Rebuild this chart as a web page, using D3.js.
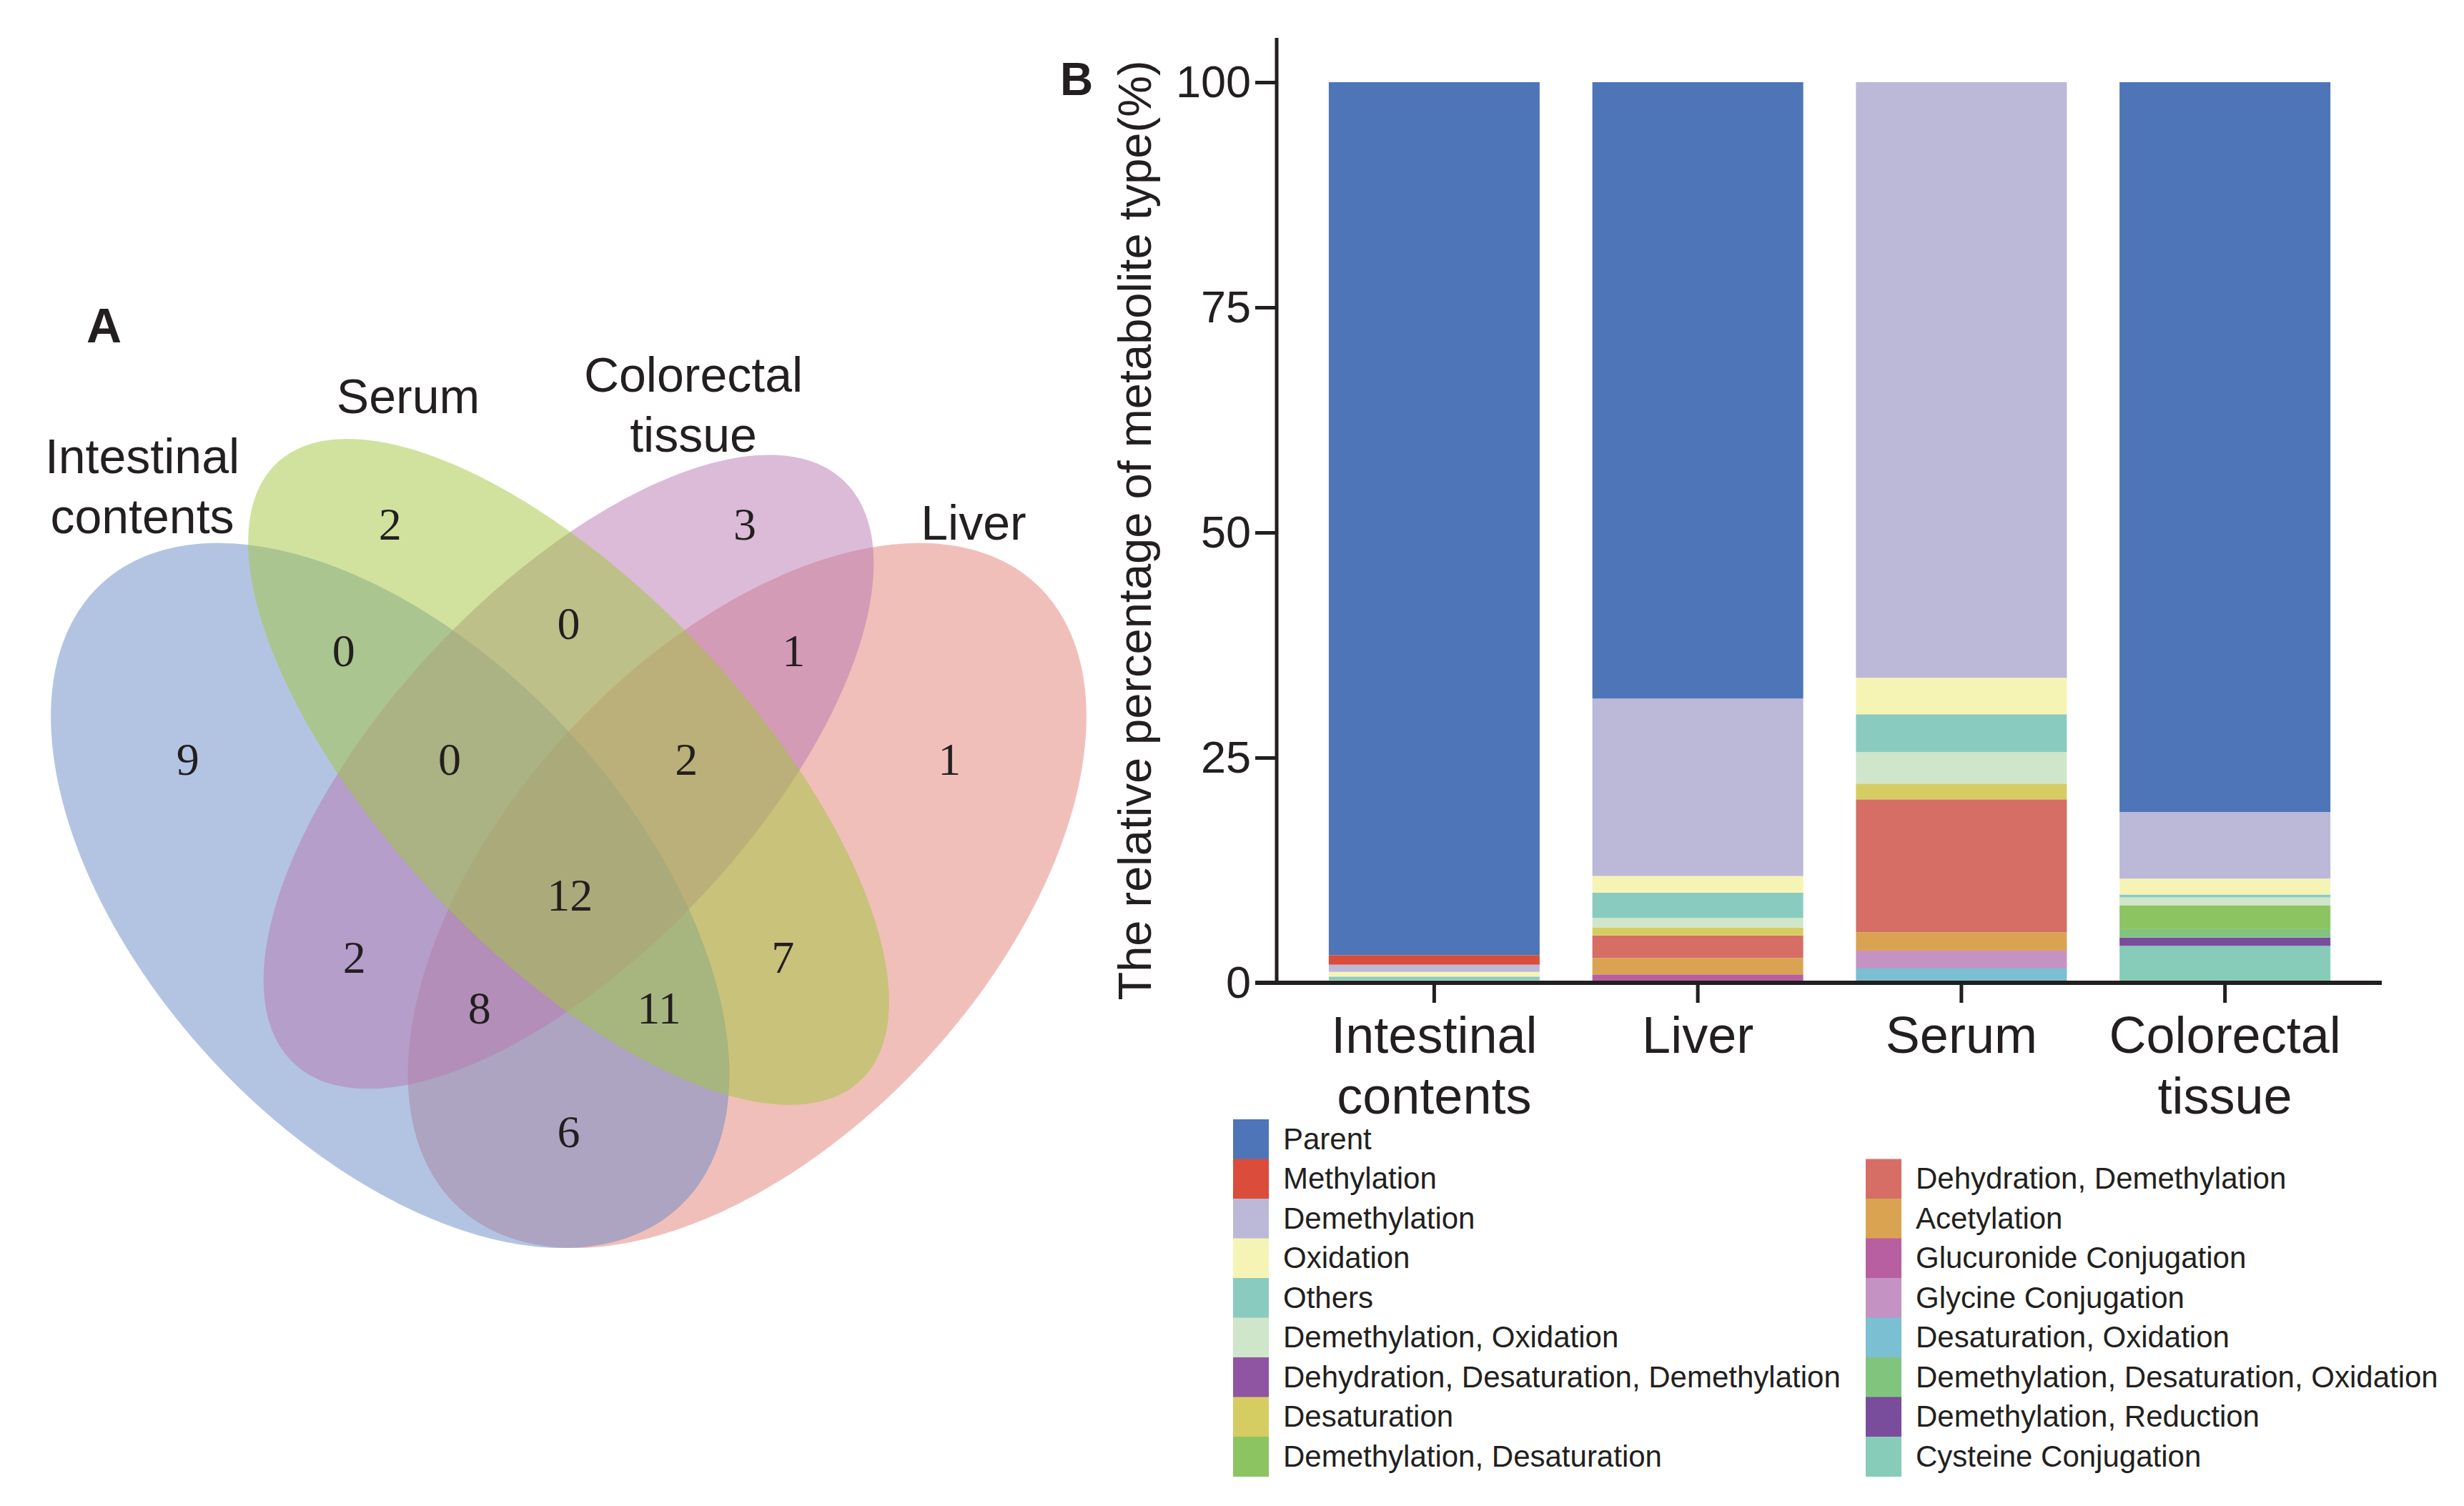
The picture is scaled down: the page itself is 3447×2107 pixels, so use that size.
<!DOCTYPE html>
<html>
<head>
<meta charset="utf-8">
<script src="https://cdn.jsdelivr.net/npm/d3@7"></script>
<style>
  body { margin: 0; background: #ffffff; }
  svg { display: block; }
</style>
</head>
<body>
<div class="canvas"></div>
<script>
// ---- data ----
const categories = ["Intestinal contents", "Liver", "Serum", "Colorectal tissue"]
const categoryLines = [["Intestinal", "contents"], ["Liver"], ["Serum"], ["Colorectal", "tissue"]]

const types = [
  "Parent", "Methylation", "Demethylation", "Oxidation", "Others",
  "Demethylation, Oxidation", "Dehydration, Desaturation, Demethylation",
  "Desaturation", "Demethylation, Desaturation", "Dehydration, Demethylation",
  "Acetylation", "Glucuronide Conjugation", "Glycine Conjugation",
  "Desaturation, Oxidation", "Demethylation, Desaturation, Oxidation",
  "Demethylation, Reduction", "Cysteine Conjugation"
]
const typeColors = [
  "#4d75b8", "#dc4c3a", "#bbb8d8", "#f6f4b4", "#8acbc0",
  "#cfe6ca", "#9055a2", "#d5cd62", "#8cc462", "#d66e66",
  "#daa352", "#b85fa2", "#c593c3", "#7abfd2", "#81c47e",
  "#7a4c9c", "#86ccb8"
]

// percentages per category (Intestinal, Liver, Serum, Colorectal)
const parent        = [96.93, 68.44, 0, 81.03]
const methylation   = [1.06, 0, 0, 0]
const demethylation = [0.79, 19.7, 66.13, 7.4]
const oxidation     = [0.53, 1.85, 4.05, 1.77]
const others        = [0.4, 2.8, 4.2, 0.32]
const demOx         = [0.13, 1.06, 3.5, 0.87]
const dehDesDem     = [0.16, 0, 0, 0]
const desaturation  = [0, 0.9, 1.75, 0]
const demDes        = [0, 0, 0, 2.65]
const dehDem        = [0, 2.49, 14.76, 0]
const acetylation   = [0, 1.83, 2.04, 0]
const glucuronide   = [0, 0.93, 0, 0]
const glycine       = [0, 0, 1.98, 0]
const desOx         = [0, 0, 1.59, 0]
const demDesOx      = [0, 0, 0, 0.93]
const demRed        = [0, 0, 0, 0.93]
const cysteine      = [0, 0, 0, 4.1]

const seriesValues = [parent, methylation, demethylation, oxidation, others, demOx, dehDesDem,
  desaturation, demDes, dehDem, acetylation, glucuronide, glycine, desOx, demDesOx, demRed, cysteine]

const yTicks = [0, 25, 50, 75, 100]

// venn
const vennSets = ["Intestinal contents", "Serum", "Colorectal tissue", "Liver"]
const vennNames = [["Intestinal", "contents"], ["Serum"], ["Colorectal", "tissue"], ["Liver"]]
const vennColors = ["#6789c7", "#a1c53b", "#b777b1", "#e37f75"]
// region counts: label, value
const vennRegions = ["I", "S", "C", "L", "IS", "SC", "CL", "ISC", "SCL", "ISCL", "IC", "SL", "ICL", "ISL", "IL"]
const vennCounts  = [9, 2, 3, 1, 0, 0, 1, 0, 2, 12, 2, 7, 8, 11, 6]

// ---- settings ----
const W = 3447, H = 2107
const ink = "#231f20"

const svg = d3.select(".canvas").append("svg")
  .attr("width", W).attr("height", H)
svg.append("rect").attr("width", W).attr("height", H).attr("fill", "#ffffff")

// ================= panel A : venn =================
const vx = d3.scaleLinear().domain([0, 1]).range([-37, 1628])
const vy = d3.scaleLinear().domain([0, 1]).range([2066, 336])

// ellipse layout in unit space (VennDiagram quad layout)
const ellipses = {
  L: {cx: 0.65, cy: 0.47, a: 0.35, b: 0.20, rot: 45},
  I: {cx: 0.35, cy: 0.47, a: 0.35, b: 0.20, rot: 135},
  C: {cx: 0.50, cy: 0.57, a: 0.33, b: 0.15, rot: 45},
  S: {cx: 0.50, cy: 0.57, a: 0.35, b: 0.15, rot: 135}
}
const drawOrder = ["L", "I", "C", "S"]
const setColor = {I: vennColors[0], S: vennColors[1], C: vennColors[2], L: vennColors[3]}

const ellLine = d3.line().x(d => vx(d[0])).y(d => vy(d[1])).curve(d3.curveLinearClosed)
function ellipsePts(e) {
  const th = e.rot * Math.PI / 180
  return d3.range(0, 360, 1).map(deg => {
    const t = deg * Math.PI / 180
    const px = e.a * Math.cos(t), py = e.b * Math.sin(t)
    return [e.cx + px * Math.cos(th) - py * Math.sin(th), e.cy + px * Math.sin(th) + py * Math.cos(th)]
  })
}

const venn = svg.append("g")
venn.selectAll("path.ell")
  .data(drawOrder)
  .enter().append("path")
    .attr("class", "ell")
    .attr("d", k => ellLine(ellipsePts(ellipses[k])))
    .attr("fill", k => setColor[k])
    .attr("fill-opacity", 0.5)
    .attr("stroke", "none")

// label spots for each region (unit space)
const regionSpot = {
  I: [0.18, 0.58], S: [0.35, 0.77], C: [0.648, 0.77], L: [0.82, 0.58],
  IS: [0.311, 0.668], SC: [0.5, 0.69], CL: [0.689, 0.668],
  ISC: [0.4, 0.58], SCL: [0.599, 0.58], ISCL: [0.501, 0.47],
  IC: [0.32, 0.42], SL: [0.68, 0.42], ICL: [0.425, 0.379], ISL: [0.576, 0.379],
  IL: [0.5, 0.279]
}
venn.selectAll("text.count")
  .data(vennRegions)
  .enter().append("text")
    .attr("class", "count")
    .attr("x", r => vx(regionSpot[r][0]))
    .attr("y", r => vy(regionSpot[r][1]))
    .attr("text-anchor", "middle")
    .attr("dominant-baseline", "central")
    .attr("font-family", "'Liberation Serif', 'DejaVu Serif', serif")
    .attr("font-size", 64)
    .attr("fill", ink)
    .text((r, i) => vennCounts[i])

// set names
const namePos = [[199, 662], [571, 578], [970, 548], [1362, 755]]
vennNames.forEach((lines, i) => {
  const t = venn.append("text")
    .attr("x", namePos[i][0]).attr("y", namePos[i][1])
    .attr("text-anchor", "middle")
    .attr("font-family", "'Liberation Sans', Arial, sans-serif")
    .attr("font-size", 68)
    .attr("fill", ink)
  lines.forEach((ln, j) => t.append("tspan").attr("x", namePos[i][0]).attr("dy", j ? 84 : 0).text(ln))
})

svg.append("text").attr("x", 121).attr("y", 479)
  .attr("font-family", "'Liberation Sans', Arial, sans-serif")
  .attr("font-weight", "bold").attr("font-size", 68).attr("fill", ink).text("A")

// ================= panel B : stacked bars =================
const y = d3.scaleLinear().domain([0, 100]).range([1375, 115])
const x = d3.scaleBand().domain(categories).range([1822, 3297]).paddingInner(0.2).paddingOuter(0.1)

const table = categories.map((c, ci) => {
  const row = {category: c}
  types.forEach((t, ti) => { row[t] = seriesValues[ti][ci] })
  return row
})
const stacked = d3.stack().keys(types.slice().reverse())(table)
const colorOf = d3.scaleOrdinal().domain(types).range(typeColors)

const bars = svg.append("g")
bars.selectAll("g.layer")
  .data(stacked)
  .enter().append("g")
    .attr("class", "layer")
    .attr("fill", d => colorOf(d.key))
  .selectAll("rect")
  .data(d => d.filter(s => s[1] - s[0] > 0))
  .enter().append("rect")
    .attr("x", d => x(d.data.category))
    .attr("width", x.bandwidth())
    .attr("y", d => y(d[1]))
    .attr("height", d => y(d[0]) - y(d[1]))

// y axis
const yAxis = svg.append("g").attr("transform", "translate(1786,0)")
  .call(d3.axisLeft(y).tickValues(yTicks).tickSize(30).tickPadding(6))
yAxis.select(".domain").remove()
yAxis.selectAll(".tick line").attr("stroke", ink).attr("stroke-width", 5)
yAxis.selectAll(".tick text")
  .attr("font-family", "'Liberation Sans', Arial, sans-serif")
  .attr("font-size", 63).attr("fill", ink)
svg.append("line").attr("x1", 1786).attr("x2", 1786).attr("y1", 53).attr("y2", y(0))
  .attr("stroke", ink).attr("stroke-width", 5)

// x axis
const xAxis = svg.append("g").attr("transform", `translate(0,${y(0)})`)
  .call(d3.axisBottom(x).tickSize(28).tickFormat(""))
xAxis.select(".domain").remove()
xAxis.selectAll(".tick line").attr("stroke", ink).attr("stroke-width", 5)
svg.append("line").attr("x1", 1756).attr("x2", 3332).attr("y1", y(0)).attr("y2", y(0))
  .attr("stroke", ink).attr("stroke-width", 6)

categories.forEach((c, i) => {
  const t = svg.append("text")
    .attr("x", x(c) + x.bandwidth() / 2).attr("y", 1473)
    .attr("text-anchor", "middle")
    .attr("font-family", "'Liberation Sans', Arial, sans-serif")
    .attr("font-size", 72).attr("fill", ink)
  categoryLines[i].forEach((ln, j) => t.append("tspan").attr("x", x(c) + x.bandwidth() / 2).attr("dy", j ? 85 : 0).text(ln))
})

// y title
svg.append("text")
  .attr("transform", "translate(1610,742) rotate(-90)")
  .attr("text-anchor", "middle")
  .attr("font-family", "'Liberation Sans', Arial, sans-serif")
  .attr("font-size", 65).attr("fill", ink)
  .text("The relative percentage of metabolite type(%)")

svg.append("text").attr("x", 1483).attr("y", 133)
  .attr("font-family", "'Liberation Sans', Arial, sans-serif")
  .attr("font-weight", "bold").attr("font-size", 64).attr("fill", ink).text("B")

// legend: two columns, right column starts one row down
const rowH = 55.5
const legend = svg.append("g")
const legendItems = types.map((t, i) => {
  const col = i < 9 ? 0 : 1
  const row = i < 9 ? i : i - 8
  return {t, col, row}
})
const colX = [1725, 2610]
const items = legend.selectAll("g.item")
  .data(legendItems)
  .enter().append("g")
    .attr("class", "item")
    .attr("transform", d => `translate(${colX[d.col]},${1566 + d.row * rowH})`)
items.append("rect")
  .attr("width", 50).attr("height", rowH + 0.5)
  .attr("fill", d => colorOf(d.t))
items.append("text")
  .attr("x", 70).attr("y", rowH / 2 + 14)
  .attr("font-family", "'Liberation Sans', Arial, sans-serif")
  .attr("font-size", 42).attr("fill", ink)
  .text(d => d.t)
</script>
</body>
</html>
